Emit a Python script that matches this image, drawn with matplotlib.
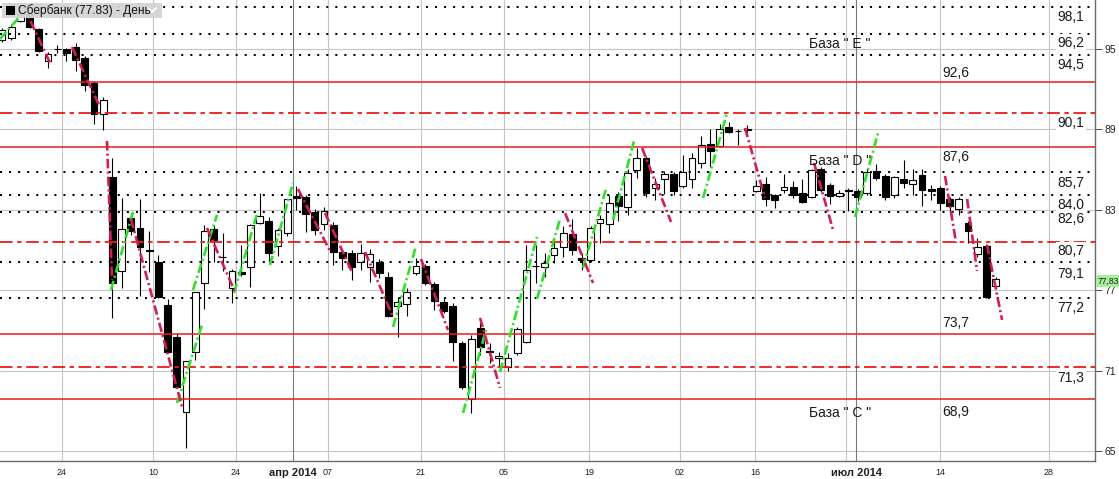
import matplotlib
matplotlib.use("Agg")
import matplotlib.pyplot as plt
from matplotlib.lines import Line2D
from matplotlib.patches import Rectangle

plt.rcParams['font.family'] = ['Liberation Sans', 'DejaVu Sans']

W, H, DPI = 1119, 479, 100

# ---------------- data ----------------
opens = [95.67, 95.82, 97.09, 97.69, 96.50, 94.11, 95.00, 95.00, 95.15, 94.33,
         92.47, 90.15, 85.45, 78.44, 82.39, 81.64, 80.00, 79.11, 75.90, 73.51,
         67.91, 72.39, 77.54, 81.57, 79.48, 77.17, 78.36, 78.73, 82.02, 82.17,
         80.30, 81.27, 84.03, 83.96, 82.84, 81.94, 81.87, 79.85, 79.78, 79.11,
         78.73, 79.11, 77.99, 75.82, 75.97, 78.29, 78.81, 77.46, 76.12, 75.82,
         73.06, 68.88, 74.18, 72.46, 71.94, 71.27, 72.32, 73.14, 78.81, 78.73,
         79.63, 80.23, 81.20, 79.41, 79.26, 82.02, 81.94, 84.03, 83.21, 85.97,
         86.87, 84.63, 85.30, 85.67, 84.78, 85.30, 86.50, 87.91, 87.76, 89.18,
         88.88, 89.03, 84.41, 84.93, 84.11, 84.48, 84.70, 84.26, 83.96, 86.05,
         84.85, 84.03, 84.48, 84.41, 84.26, 85.90, 85.53, 84.11, 85.30, 84.93,
         85.60, 84.55, 84.63, 83.81, 83.06, 82.02, 79.70, 80.30, 77.32]
highs = [96.57, 96.79, 98.29, 97.91, 96.57, 94.78, 95.30, 95.08, 95.45, 94.48,
         92.61, 91.42, 86.87, 83.88, 82.76, 83.81, 81.42, 79.63, 76.35, 73.81,
         71.72, 76.87, 81.87, 81.87, 81.27, 78.59, 80.38, 81.94, 84.26, 82.47,
         81.64, 83.81, 84.78, 84.11, 83.06, 83.21, 82.09, 80.00, 80.00, 80.45,
         80.08, 79.33, 78.36, 76.49, 77.17, 79.41, 78.96, 77.61, 76.49, 76.05,
         73.21, 73.66, 74.55, 73.06, 72.39, 72.32, 74.26, 80.38, 80.38, 79.78,
         80.75, 81.79, 82.32, 79.78, 81.79, 82.62, 84.11, 84.33, 86.05, 87.61,
         87.02, 85.38, 85.90, 85.82, 87.09, 87.24, 88.51, 89.03, 89.41, 89.56,
         89.03, 89.33, 85.23, 85.45, 84.18, 85.67, 85.15, 85.30, 86.05, 86.20,
         85.00, 84.48, 84.63, 84.55, 86.12, 86.42, 85.67, 85.53, 86.72, 86.05,
         86.05, 84.85, 84.78, 83.96, 83.96, 82.17, 80.90, 80.45, 77.99]
lows = [95.53, 95.67, 97.02, 96.57, 94.78, 93.59, 94.70, 94.11, 93.36, 91.87,
        89.41, 88.92, 74.93, 77.17, 81.12, 76.57, 78.36, 76.42, 72.32, 69.70,
        65.23, 71.79, 75.60, 79.11, 78.44, 76.05, 78.06, 77.24, 81.94, 79.11,
        79.56, 81.05, 82.99, 81.34, 81.12, 81.50, 78.88, 78.51, 77.76, 78.51,
        77.61, 77.91, 75.00, 73.51, 75.08, 78.14, 77.39, 75.52, 75.30, 71.72,
        69.63, 67.84, 72.17, 71.57, 71.27, 70.97, 72.17, 73.06, 77.54, 77.99,
        79.03, 79.48, 79.63, 78.51, 79.11, 80.53, 81.27, 82.17, 82.62, 85.38,
        83.96, 83.73, 84.18, 84.11, 84.63, 84.63, 86.12, 86.20, 87.69, 88.73,
        87.84, 88.58, 84.33, 83.29, 83.14, 84.26, 83.88, 83.51, 83.88, 84.33,
        83.44, 83.96, 82.91, 83.66, 84.11, 85.23, 83.73, 83.88, 84.63, 84.11,
        83.29, 83.73, 82.99, 82.76, 82.62, 80.53, 79.48, 76.42, 77.09]
closes = [96.42, 96.65, 97.62, 96.65, 94.85, 94.63, 94.97, 94.70, 94.18, 92.32,
          90.15, 91.20, 77.54, 81.57, 81.42, 80.23, 79.96, 76.50, 72.39, 69.78,
          71.72, 76.87, 81.42, 80.75, 79.44, 78.44, 78.21, 81.87, 82.54, 79.78,
          81.50, 83.81, 83.88, 82.69, 81.50, 82.91, 79.85, 79.41, 78.73, 79.78,
          79.70, 78.29, 75.08, 76.12, 76.87, 78.81, 77.54, 76.20, 75.45, 73.14,
          69.78, 73.36, 72.76, 72.39, 72.09, 71.94, 74.11, 78.51, 78.77, 79.03,
          80.15, 81.27, 80.00, 79.26, 81.64, 82.32, 83.51, 83.29, 85.75, 86.87,
          84.26, 84.93, 85.67, 84.41, 85.82, 86.87, 87.84, 87.39, 89.03, 88.81,
          88.85, 88.99, 84.78, 83.81, 83.73, 84.70, 84.11, 83.58, 85.97, 84.48,
          84.03, 84.26, 84.44, 83.96, 85.82, 85.38, 83.96, 85.45, 85.00, 85.23,
          84.48, 84.41, 83.51, 83.29, 83.81, 81.42, 80.23, 76.50, 77.83]

# horizontal levels
dotted_levels = [98.14, 96.12, 94.56, 85.82, 84.11, 82.84, 79.11, 76.42]
solid_levels = [92.54, 87.69, 73.73, 68.88]
dashdot_levels = [90.23, 80.60, 71.27]

# level labels
right_labels = ["98,1", "96,2", "94,5", "90,1", "85,7", "84,0", "82,6",
                "80,7", "79,1", "77,2", "71,3"]
right_label_y = [97.39, 95.45, 93.81, 89.48, 85.00, 83.36, 82.32,
                 79.93, 78.21, 75.67, 70.45]
left_labels = ["92,6", "87,6", "73,7", "68,9"]
left_label_y = [93.21, 86.94, 74.55, 67.91]
base_labels = ['База " E "', 'База " D "', 'База " C "']
base_label_y = [95.38, 86.64, 67.84]

# trend segments (x0, y0, x1, y1) in bar index / price
green_lines = [(-0.22, 95.75, 2.28, 97.69), (11.85, 77.02, 14.24, 82.84),
               (19.02, 68.58, 21.74, 74.41), (20.76, 77.02, 23.37, 82.62),
               (25.22, 76.79, 27.72, 82.69), (29.13, 78.88, 31.63, 85.00),
               (42.50, 74.26, 45.00, 80.30), (50.11, 67.84, 52.61, 74.03),
               (54.13, 70.90, 58.15, 80.97), (58.15, 76.35, 60.65, 82.32),
               (63.15, 78.66, 65.65, 84.55), (66.41, 82.24, 68.70, 88.14),
               (76.20, 83.88, 78.80, 90.23), (92.72, 82.47, 95.22, 88.73)]
red_lines = [(2.28, 98.29, 5.22, 93.96), (7.61, 95.15, 10.65, 90.67),
             (11.41, 88.14, 11.96, 77.76), (14.02, 82.32, 19.57, 68.29),
             (22.28, 81.64, 25.33, 76.87), (32.17, 84.55, 35.65, 79.93),
             (35.11, 82.76, 38.04, 78.36), (39.46, 79.85, 42.50, 75.00),
             (45.54, 79.33, 48.48, 74.03), (51.96, 74.93, 54.13, 69.70),
             (61.20, 82.76, 64.24, 77.54), (69.57, 87.61, 72.72, 82.09),
             (80.76, 89.11, 82.93, 83.88), (88.26, 86.50, 90.33, 81.50),
             (102.50, 85.53, 103.70, 80.53), (104.90, 83.81, 105.98, 78.43),
             (107.07, 80.38, 108.70, 74.78)]

# axes ticks
x_tick_pos = [6.52, 16.41, 25.43, 31.63, 35.43, 45.54, 54.57, 63.80,
              73.70, 81.85, 92.83, 101.96, 113.8]
x_tick_labels = ["24", "10", "24", "апр 2014", "07", "21", "05", "19",
                 "02", "16", "июл 2014", "14", "28"]
month_ticks = [31.63, 92.83]
extra_grid = [91.74]
y_ticks = [65, 71, 77, 83, 89, 95]
last_price = "77,83"
title = "Сбербанк (77.83) - День"

# ---------------- figure ----------------
fig = plt.figure(figsize=(W / DPI, H / DPI), dpi=DPI)
fig.patch.set_facecolor('white')
ax = fig.add_axes([0, 18 / H, 1095 / W, 461 / H])
ax.set_xlim(-0.217, 118.8)
ax.set_ylim(64.25, 98.66)
ax.set_facecolor('white')

# grid
for y in y_ticks:
    ax.axhline(y, color='#c4c4c4', lw=0.8, zorder=0.5)
for x in x_tick_pos + extra_grid:
    col = '#7a7a7a' if x in month_ticks else '#c4c4c4'
    ax.axvline(x, color=col, lw=0.8, zorder=0.5)

# candles
idx = list(range(len(opens)))
ax.vlines(idx, lows, highs, color='black', lw=0.8, zorder=2)
bottoms = [min(o, c) for o, c in zip(opens, closes)]
heights = [max(abs(c - o), 0.02) for o, c in zip(opens, closes)]
colors = ['white' if c >= o else 'black' for o, c in zip(opens, closes)]
ax.bar(idx, heights, bottom=bottoms, width=0.74, color=colors,
       edgecolor='black', linewidth=0.8, zorder=3)

# levels
for y in dotted_levels:
    ax.axhline(y, color='black', lw=1.45, linestyle=(0, (1, 3.5)),
               dash_capstyle='butt', zorder=4)
for y in solid_levels:
    ax.axhline(y, color='#ee1a1a', lw=1.1, zorder=4)
for y in dashdot_levels:
    ax.axhline(y, color='#ee1a1a', lw=1.3, linestyle=(0, (7, 2.5, 2.5, 2.5)),
               zorder=4)

# trend segments
for x0, y0, x1, y1 in green_lines:
    ax.plot([x0, x1], [y0, y1], color='#2fe02a', lw=1.9,
            linestyle=(0, (3.6, 1.2, 0.8, 1.2)), zorder=5)
for x0, y0, x1, y1 in red_lines:
    ax.plot([x0, x1], [y0, y1], color='#d21e52', lw=1.9,
            linestyle=(0, (3.6, 1.2, 0.8, 1.2)), zorder=5)

# labels
lab_kw = dict(fontsize=10, color='#1a1a1a', va='center', zorder=6)
for t, y in zip(right_labels, right_label_y):
    ax.text(114.75, y, t, ha='left',
            bbox=dict(facecolor='white', edgecolor='none', pad=1.2), **lab_kw)
for t, y in zip(left_labels, left_label_y):
    ax.text(102.2, y, t, ha='left', **lab_kw)
for t, y in zip(base_labels, base_label_y):
    ax.text(87.7, y, t, ha='left', **lab_kw)

# axes styling
for s in ['top', 'left']:
    ax.spines[s].set_visible(False)
for s in ['right', 'bottom']:
    ax.spines[s].set_color('#6a6a6a')
    ax.spines[s].set_linewidth(1.0)
ax.yaxis.tick_right()
ax.set_yticks(y_ticks)
ax.set_yticklabels([str(v) for v in y_ticks])
ax.tick_params(axis='y', length=5, width=0.7, color='#505050',
               labelsize=7.5, pad=2, labelcolor='#202020')
ax.set_xticks(x_tick_pos)
ax.set_xticklabels(x_tick_labels)
ax.tick_params(axis='x', length=0, labelsize=6.5, pad=5, labelcolor='#202020')
for lbl, pos in zip(ax.get_xticklabels(), x_tick_pos):
    if pos in month_ticks:
        lbl.set_fontweight('bold')
        lbl.set_fontsize(8)

# last price tag
fig.text(1097.5 / W, 1 - 281 / H, last_price, fontsize=6.2, va='center',
         ha='left', color='#202020',
         bbox=dict(facecolor='#a6ef9c', edgecolor='none', pad=1.2))

# title box
fig.add_artist(Rectangle((2 / W, 1 - 18 / H), 160 / W, 15 / H,
                         transform=fig.transFigure, facecolor='#d4d4d4',
                         edgecolor='none', alpha=0.95, zorder=10))
fig.add_artist(Rectangle((6 / W, 1 - 15 / H), 9 / W, 9 / H,
                         transform=fig.transFigure, facecolor='black',
                         edgecolor='none', zorder=11))
fig.text(18 / W, 1 - 10.5 / H, title, fontsize=8.6, va='center', ha='left',
         color='#101010', zorder=11)
fig.add_artist(Line2D([148 / W, 152 / W, 156 / W],
                      [1 - 8 / H, 1 - 12 / H, 1 - 8 / H],
                      transform=fig.transFigure, color='white', lw=1.3,
                      zorder=11))

fig.savefig('out.png', dpi=DPI)
